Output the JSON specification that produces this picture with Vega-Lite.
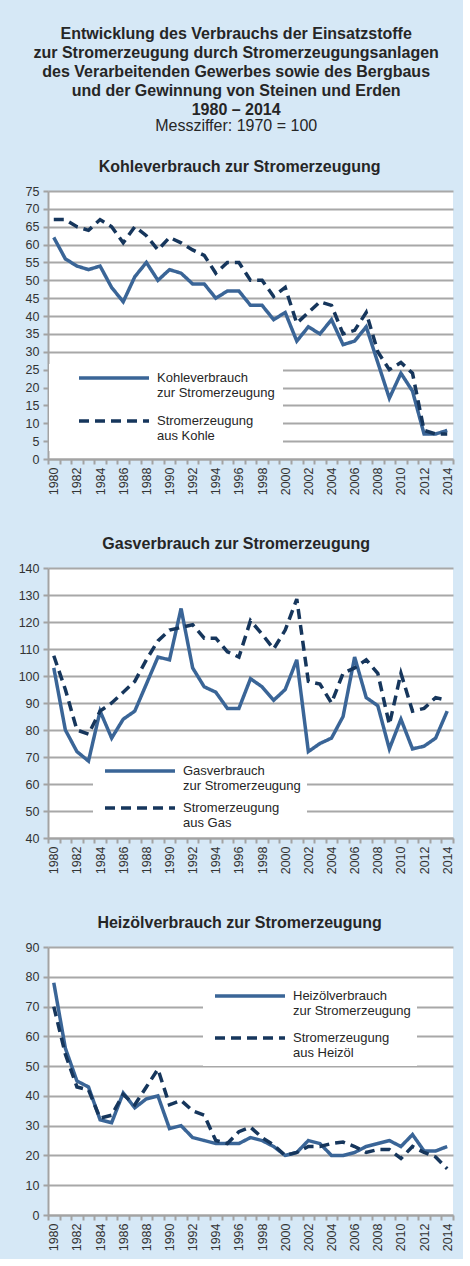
{
"$schema": "https://vega.github.io/schema/vega-lite/v6.json",
"background": "#d6e8f6",
"padding": {"left": 18, "top": 26, "right": 8, "bottom": 8},
"title": {"text": ["Entwicklung des Verbrauchs der Einsatzstoffe", "zur Stromerzeugung durch Stromerzeugungsanlagen", "des Verarbeitenden Gewerbes sowie des Bergbaus", "und der Gewinnung von Steinen und Erden", "1980 – 2014"], "subtitle": "Messziffer: 1970 = 100", "font": "Liberation Sans", "fontSize": 16, "fontWeight": "bold", "lineHeight": 19, "color": "#262626", "subtitleFont": "Liberation Sans", "subtitleFontSize": 16, "subtitleColor": "#262626", "subtitlePadding": 0, "anchor": "middle", "frame": "bounds", "offset": 25},
"spacing": 41,
"resolve": {"scale": {"color": "independent", "strokeDash": "independent"}, "legend": {"color": "independent", "strokeDash": "independent"}},
"config": {
  "view": {"fill": "white", "stroke": null},
  "title": {"font": "Liberation Sans", "fontSize": 16, "fontWeight": "bold", "color": "#262626", "anchor": "middle", "frame": "bounds", "offset": 10},
  "axis": {"labelFont": "Liberation Sans", "labelFontSize": 12.5, "labelColor": "#333333", "domainColor": "#a3a3a3", "domainWidth": 2, "tickColor": "#a3a3a3", "tickWidth": 2, "tickSize": 5, "gridColor": "#a8a8a8", "gridWidth": 2, "title": null, "labelOverlap": false},
  "axisX": {"grid": false, "labelAngle": -90, "tickBand": "extent", "labelPadding": 3, "labelExpr": "datum.value % 2 === 0 ? datum.label : ''"},
  "axisY": {"grid": true, "labelPadding": 4},
  "legend": {"orient": "none", "title": null, "fillColor": "white", "padding": 6, "clipHeight": 12, "symbolType": "stroke", "symbolSize": 4900, "symbolStrokeWidth": 4, "labelFont": "Liberation Sans", "labelFontSize": 13, "labelColor": "#262626", "labelLimit": 300, "labelOffset": 6, "labelBaseline": "middle"},
  "line": {"strokeWidth": 3.5}
},
"datasets": {
"kohle": [
{"year":1980,"series":"Verbrauch","value":62},{"year":1981,"series":"Verbrauch","value":56},{"year":1982,"series":"Verbrauch","value":54},{"year":1983,"series":"Verbrauch","value":53},{"year":1984,"series":"Verbrauch","value":54},{"year":1985,"series":"Verbrauch","value":48},{"year":1986,"series":"Verbrauch","value":44},{"year":1987,"series":"Verbrauch","value":51},{"year":1988,"series":"Verbrauch","value":55},{"year":1989,"series":"Verbrauch","value":50},{"year":1990,"series":"Verbrauch","value":53},{"year":1991,"series":"Verbrauch","value":52},{"year":1992,"series":"Verbrauch","value":49},{"year":1993,"series":"Verbrauch","value":49},{"year":1994,"series":"Verbrauch","value":45},{"year":1995,"series":"Verbrauch","value":47},{"year":1996,"series":"Verbrauch","value":47},{"year":1997,"series":"Verbrauch","value":43},{"year":1998,"series":"Verbrauch","value":43},{"year":1999,"series":"Verbrauch","value":39},{"year":2000,"series":"Verbrauch","value":41},{"year":2001,"series":"Verbrauch","value":33},{"year":2002,"series":"Verbrauch","value":37},{"year":2003,"series":"Verbrauch","value":35},{"year":2004,"series":"Verbrauch","value":39},{"year":2005,"series":"Verbrauch","value":32},{"year":2006,"series":"Verbrauch","value":33},{"year":2007,"series":"Verbrauch","value":37},{"year":2008,"series":"Verbrauch","value":27},{"year":2009,"series":"Verbrauch","value":17},{"year":2010,"series":"Verbrauch","value":24},{"year":2011,"series":"Verbrauch","value":19},{"year":2012,"series":"Verbrauch","value":7},{"year":2013,"series":"Verbrauch","value":7},{"year":2014,"series":"Verbrauch","value":8},
{"year":1980,"series":"Erzeugung","value":67},{"year":1981,"series":"Erzeugung","value":67},{"year":1982,"series":"Erzeugung","value":65},{"year":1983,"series":"Erzeugung","value":64},{"year":1984,"series":"Erzeugung","value":67},{"year":1985,"series":"Erzeugung","value":65},{"year":1986,"series":"Erzeugung","value":60.5},{"year":1987,"series":"Erzeugung","value":65},{"year":1988,"series":"Erzeugung","value":62.5},{"year":1989,"series":"Erzeugung","value":58.5},{"year":1990,"series":"Erzeugung","value":62},{"year":1991,"series":"Erzeugung","value":60.5},{"year":1992,"series":"Erzeugung","value":58.5},{"year":1993,"series":"Erzeugung","value":57},{"year":1994,"series":"Erzeugung","value":52},{"year":1995,"series":"Erzeugung","value":55},{"year":1996,"series":"Erzeugung","value":55},{"year":1997,"series":"Erzeugung","value":50},{"year":1998,"series":"Erzeugung","value":50},{"year":1999,"series":"Erzeugung","value":45.5},{"year":2000,"series":"Erzeugung","value":48},{"year":2001,"series":"Erzeugung","value":38},{"year":2002,"series":"Erzeugung","value":41},{"year":2003,"series":"Erzeugung","value":44},{"year":2004,"series":"Erzeugung","value":43},{"year":2005,"series":"Erzeugung","value":35},{"year":2006,"series":"Erzeugung","value":36},{"year":2007,"series":"Erzeugung","value":41},{"year":2008,"series":"Erzeugung","value":30},{"year":2009,"series":"Erzeugung","value":25},{"year":2010,"series":"Erzeugung","value":27},{"year":2011,"series":"Erzeugung","value":24},{"year":2012,"series":"Erzeugung","value":8},{"year":2013,"series":"Erzeugung","value":7},{"year":2014,"series":"Erzeugung","value":7}
],
"gas": [
{"year":1980,"series":"Verbrauch","value":103},{"year":1981,"series":"Verbrauch","value":80},{"year":1982,"series":"Verbrauch","value":72},{"year":1983,"series":"Verbrauch","value":68.5},{"year":1984,"series":"Verbrauch","value":87},{"year":1985,"series":"Verbrauch","value":77},{"year":1986,"series":"Verbrauch","value":84},{"year":1987,"series":"Verbrauch","value":87},{"year":1988,"series":"Verbrauch","value":97},{"year":1989,"series":"Verbrauch","value":107},{"year":1990,"series":"Verbrauch","value":106},{"year":1991,"series":"Verbrauch","value":125},{"year":1992,"series":"Verbrauch","value":103},{"year":1993,"series":"Verbrauch","value":96},{"year":1994,"series":"Verbrauch","value":94},{"year":1995,"series":"Verbrauch","value":88},{"year":1996,"series":"Verbrauch","value":88},{"year":1997,"series":"Verbrauch","value":99},{"year":1998,"series":"Verbrauch","value":96},{"year":1999,"series":"Verbrauch","value":91},{"year":2000,"series":"Verbrauch","value":95},{"year":2001,"series":"Verbrauch","value":106},{"year":2002,"series":"Verbrauch","value":72},{"year":2003,"series":"Verbrauch","value":75},{"year":2004,"series":"Verbrauch","value":77},{"year":2005,"series":"Verbrauch","value":85},{"year":2006,"series":"Verbrauch","value":107},{"year":2007,"series":"Verbrauch","value":92},{"year":2008,"series":"Verbrauch","value":89},{"year":2009,"series":"Verbrauch","value":73},{"year":2010,"series":"Verbrauch","value":84},{"year":2011,"series":"Verbrauch","value":73},{"year":2012,"series":"Verbrauch","value":74},{"year":2013,"series":"Verbrauch","value":77},{"year":2014,"series":"Verbrauch","value":87},
{"year":1980,"series":"Erzeugung","value":107.5},{"year":1981,"series":"Erzeugung","value":95},{"year":1982,"series":"Erzeugung","value":80},{"year":1983,"series":"Erzeugung","value":78.5},{"year":1984,"series":"Erzeugung","value":87},{"year":1985,"series":"Erzeugung","value":90},{"year":1986,"series":"Erzeugung","value":94},{"year":1987,"series":"Erzeugung","value":98},{"year":1988,"series":"Erzeugung","value":106},{"year":1989,"series":"Erzeugung","value":113},{"year":1990,"series":"Erzeugung","value":117},{"year":1991,"series":"Erzeugung","value":118},{"year":1992,"series":"Erzeugung","value":119},{"year":1993,"series":"Erzeugung","value":114},{"year":1994,"series":"Erzeugung","value":114},{"year":1995,"series":"Erzeugung","value":109},{"year":1996,"series":"Erzeugung","value":107},{"year":1997,"series":"Erzeugung","value":120.5},{"year":1998,"series":"Erzeugung","value":115.5},{"year":1999,"series":"Erzeugung","value":110},{"year":2000,"series":"Erzeugung","value":117},{"year":2001,"series":"Erzeugung","value":128.5},{"year":2002,"series":"Erzeugung","value":98},{"year":2003,"series":"Erzeugung","value":97},{"year":2004,"series":"Erzeugung","value":90},{"year":2005,"series":"Erzeugung","value":101},{"year":2006,"series":"Erzeugung","value":103},{"year":2007,"series":"Erzeugung","value":106},{"year":2008,"series":"Erzeugung","value":101},{"year":2009,"series":"Erzeugung","value":82},{"year":2010,"series":"Erzeugung","value":101},{"year":2011,"series":"Erzeugung","value":87},{"year":2012,"series":"Erzeugung","value":88},{"year":2013,"series":"Erzeugung","value":92},{"year":2014,"series":"Erzeugung","value":91}
],
"oel": [
{"year":1980,"series":"Verbrauch","value":78},{"year":1981,"series":"Verbrauch","value":56},{"year":1982,"series":"Verbrauch","value":45},{"year":1983,"series":"Verbrauch","value":43},{"year":1984,"series":"Verbrauch","value":32},{"year":1985,"series":"Verbrauch","value":31},{"year":1986,"series":"Verbrauch","value":41},{"year":1987,"series":"Verbrauch","value":36},{"year":1988,"series":"Verbrauch","value":39},{"year":1989,"series":"Verbrauch","value":40},{"year":1990,"series":"Verbrauch","value":29},{"year":1991,"series":"Verbrauch","value":30},{"year":1992,"series":"Verbrauch","value":26},{"year":1993,"series":"Verbrauch","value":25},{"year":1994,"series":"Verbrauch","value":24},{"year":1995,"series":"Verbrauch","value":24},{"year":1996,"series":"Verbrauch","value":24},{"year":1997,"series":"Verbrauch","value":26},{"year":1998,"series":"Verbrauch","value":25},{"year":1999,"series":"Verbrauch","value":23},{"year":2000,"series":"Verbrauch","value":20},{"year":2001,"series":"Verbrauch","value":21},{"year":2002,"series":"Verbrauch","value":25},{"year":2003,"series":"Verbrauch","value":24},{"year":2004,"series":"Verbrauch","value":20},{"year":2005,"series":"Verbrauch","value":20},{"year":2006,"series":"Verbrauch","value":21},{"year":2007,"series":"Verbrauch","value":23},{"year":2008,"series":"Verbrauch","value":24},{"year":2009,"series":"Verbrauch","value":25},{"year":2010,"series":"Verbrauch","value":23},{"year":2011,"series":"Verbrauch","value":27},{"year":2012,"series":"Verbrauch","value":21.5},{"year":2013,"series":"Verbrauch","value":21.5},{"year":2014,"series":"Verbrauch","value":23},
{"year":1980,"series":"Erzeugung","value":70},{"year":1981,"series":"Erzeugung","value":54},{"year":1982,"series":"Erzeugung","value":43},{"year":1983,"series":"Erzeugung","value":42},{"year":1984,"series":"Erzeugung","value":32.5},{"year":1985,"series":"Erzeugung","value":33.5},{"year":1986,"series":"Erzeugung","value":40.5},{"year":1987,"series":"Erzeugung","value":37},{"year":1988,"series":"Erzeugung","value":43},{"year":1989,"series":"Erzeugung","value":49},{"year":1990,"series":"Erzeugung","value":37},{"year":1991,"series":"Erzeugung","value":38.5},{"year":1992,"series":"Erzeugung","value":35},{"year":1993,"series":"Erzeugung","value":33.5},{"year":1994,"series":"Erzeugung","value":25},{"year":1995,"series":"Erzeugung","value":24},{"year":1996,"series":"Erzeugung","value":28},{"year":1997,"series":"Erzeugung","value":29.5},{"year":1998,"series":"Erzeugung","value":26},{"year":1999,"series":"Erzeugung","value":23.5},{"year":2000,"series":"Erzeugung","value":20},{"year":2001,"series":"Erzeugung","value":21},{"year":2002,"series":"Erzeugung","value":23},{"year":2003,"series":"Erzeugung","value":23},{"year":2004,"series":"Erzeugung","value":24},{"year":2005,"series":"Erzeugung","value":24.5},{"year":2006,"series":"Erzeugung","value":23},{"year":2007,"series":"Erzeugung","value":21},{"year":2008,"series":"Erzeugung","value":22},{"year":2009,"series":"Erzeugung","value":22},{"year":2010,"series":"Erzeugung","value":19},{"year":2011,"series":"Erzeugung","value":23},{"year":2012,"series":"Erzeugung","value":21},{"year":2013,"series":"Erzeugung","value":19.5},{"year":2014,"series":"Erzeugung","value":15.5}
]
},
"vconcat": [
{
  "title": "Kohleverbrauch zur Stromerzeugung",
  "width": 405, "height": 268,
  "data": {"name": "kohle"},
  "mark": {"type": "line", "strokeWidth": 3.5},
  "encoding": {
    "x": {"field": "year", "type": "ordinal", "scale": {"type": "band", "paddingInner": 0, "paddingOuter": 0}, "bandPosition": 0.5},
    "y": {"field": "value", "type": "quantitative", "scale": {"domain": [0, 75], "nice": false}, "axis": {"values": [0,5,10,15,20,25,30,35,40,45,50,55,60,65,70,75]}},
    "color": {"field": "series", "type": "nominal", "scale": {"domain": ["Verbrauch", "Erzeugung"], "range": ["#3a6597", "#16365c"]}, "legend": {"legendX": 1, "legendY": 173, "symbolOffset": 20, "rowPadding": 15, "padding": 8, "labelExpr": "datum.value == 'Verbrauch' ? ['Kohleverbrauch', '\u00a0zur Stromerzeugung'] : ['Stromerzeugung', 'aus Kohle']"}},
    "strokeDash": {"field": "series", "type": "nominal", "scale": {"domain": ["Verbrauch", "Erzeugung"], "range": [[1, 0], [10, 6]]}, "legend": {"legendX": 1, "legendY": 173, "symbolOffset": 20, "rowPadding": 15, "padding": 8, "labelExpr": "datum.value == 'Verbrauch' ? ['Kohleverbrauch', '\u00a0zur Stromerzeugung'] : ['Stromerzeugung', 'aus Kohle']"}}
  }
},
{
  "title": "Gasverbrauch zur Stromerzeugung",
  "width": 405, "height": 270,
  "data": {"name": "gas"},
  "mark": {"type": "line", "strokeWidth": 3.5},
  "encoding": {
    "x": {"field": "year", "type": "ordinal", "scale": {"type": "band", "paddingInner": 0, "paddingOuter": 0}, "bandPosition": 0.5},
    "y": {"field": "value", "type": "quantitative", "scale": {"domain": [40, 140], "nice": false}, "axis": {"values": [40,50,60,70,80,90,100,110,120,130,140]}},
    "color": {"field": "series", "type": "nominal", "scale": {"domain": ["Verbrauch", "Erzeugung"], "range": ["#3a6597", "#16365c"]}, "legend": {"legendX": 45, "legendY": 191, "symbolOffset": 4, "rowPadding": 9, "labelExpr": "datum.value == 'Verbrauch' ? ['Gasverbrauch', '\u00a0zur Stromerzeugung'] : ['Stromerzeugung', 'aus Gas']"}},
    "strokeDash": {"field": "series", "type": "nominal", "scale": {"domain": ["Verbrauch", "Erzeugung"], "range": [[1, 0], [10, 6]]}, "legend": {"legendX": 45, "legendY": 191, "symbolOffset": 4, "rowPadding": 9, "labelExpr": "datum.value == 'Verbrauch' ? ['Gasverbrauch', '\u00a0zur Stromerzeugung'] : ['Stromerzeugung', 'aus Gas']"}}
  }
},
{
  "title": "Heizölverbrauch zur Stromerzeugung",
  "width": 405, "height": 268,
  "data": {"name": "oel"},
  "mark": {"type": "line", "strokeWidth": 3.5},
  "encoding": {
    "x": {"field": "year", "type": "ordinal", "scale": {"type": "band", "paddingInner": 0, "paddingOuter": 0}, "bandPosition": 0.5},
    "y": {"field": "value", "type": "quantitative", "scale": {"domain": [0, 90], "nice": false}, "axis": {"values": [0,10,20,30,40,50,60,70,80,90]}},
    "color": {"field": "series", "type": "nominal", "scale": {"domain": ["Verbrauch", "Erzeugung"], "range": ["#3a6597", "#16365c"]}, "legend": {"legendX": 155, "legendY": 37, "symbolOffset": 4, "rowPadding": 14, "labelExpr": "datum.value == 'Verbrauch' ? ['Heizölverbrauch', '\u00a0zur Stromerzeugung'] : ['Stromerzeugung', 'aus Heizöl']"}},
    "strokeDash": {"field": "series", "type": "nominal", "scale": {"domain": ["Verbrauch", "Erzeugung"], "range": [[1, 0], [10, 6]]}, "legend": {"legendX": 155, "legendY": 37, "symbolOffset": 4, "rowPadding": 14, "labelExpr": "datum.value == 'Verbrauch' ? ['Heizölverbrauch', '\u00a0zur Stromerzeugung'] : ['Stromerzeugung', 'aus Heizöl']"}}
  }
}
]
}
